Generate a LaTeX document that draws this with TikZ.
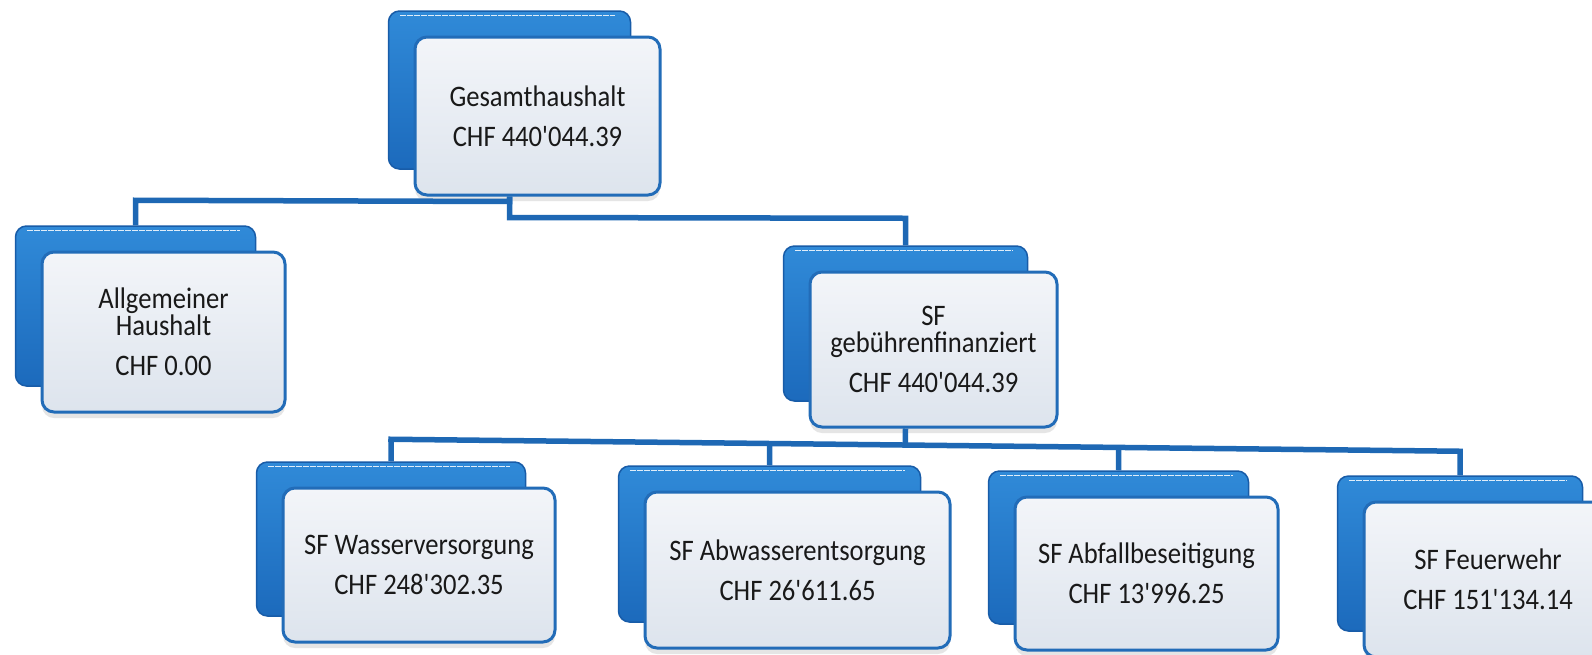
\documentclass[tikz,border=0pt]{standalone}
\usepackage{fontspec}
\setmainfont{Carlito}
\usetikzlibrary{calc,shadows}
\definecolor{bluetop}{RGB}{48,138,216}
\definecolor{bluebot}{RGB}{28,106,188}
\definecolor{bluedraw}{RGB}{24,92,168}
\definecolor{fronttop}{RGB}{243,245,249}
\definecolor{frontbot}{RGB}{221,228,237}
\definecolor{frontdraw}{RGB}{34,108,184}
\definecolor{conncol}{RGB}{30,104,180}
\definecolor{txtcol}{RGB}{25,25,25}
\newcommand{\apos}{\textquotesingle}
\tikzset{
  backbox/.style={rectangle, rounded corners=11pt, draw=bluedraw, line width=1.5pt,
    top color=bluetop, bottom color=bluebot, inner sep=0pt},
  frontbox/.style={rectangle, rounded corners=12pt, draw=frontdraw, line width=3pt,
    top color=fronttop, bottom color=frontbot, inner sep=0pt,
    drop shadow={shadow xshift=0pt, shadow yshift=-6pt, opacity=0.22, fill=black!45}},
  hilite/.style={draw=white, line width=1.3pt, opacity=0.85, dash pattern=on 6pt off 1pt},
  cardtext/.style={font=\fontsize{26.6}{24}\selectfont, align=center, text=txtcol,
    inner sep=0pt, yscale=1.12, transform shape},
  conn/.style={draw=conncol, line width=5.5pt, line join=miter}
}
\newcommand{\card}[7]{%
  \node[backbox, minimum width=#4pt-3pt, minimum height=#5pt] (#1B) at ($(#2,#3)+(-28,-26)$) {};
  \draw[hilite] ($(#1B.north west)+(12,5)$) -- ($(#1B.north east)+(-16,5)$);
  \node[frontbox, minimum width=#4pt, minimum height=#5pt] (#1) at (#2,#3) {};
  \node[cardtext] (#1T) at (#1.center) {#6\\[12pt]#7};
}
\begin{document}
\begin{tikzpicture}[x=1pt, y=-1pt]
  \fill[white] (0,0) rectangle (1592,654);
  \useasboundingbox (0,0) rectangle (1592,654);

  \card{g}{537.5}{116}{245}{158}{Gesamthaushalt}{CHF 440\apos044.39}
  \card{a}{163.5}{332}{243}{160}{Allgemeiner\\Haushalt}{CHF 0.00}
  \card{s}{933.5}{349.5}{247}{155}{SF\\gebührenfinanziert}{CHF 440\apos044.39}
  \card{w}{419}{565}{272}{154}{SF Wasserversorgung}{CHF 248\apos302.35}
  \card{v}{797.5}{570}{305}{156}{SF Abwasserentsorgung}{CHF 26\apos611.65}
  \card{b}{1146.5}{573.5}{263}{153}{SF Abfallbeseitigung}{CHF 13\apos996.25}
  \card{f}{1488}{579.5}{248}{155}{SF Feuerwehr}{CHF 151\apos134.14}

  % level 1 connectors
  \draw[conn] (gB.south |- g.south) -- ++(0,5) -- ($(aB.north)+(0,-25)$) -- (aB.north);
  \draw[conn] (gB.south |- g.south) -- ++(0,21) -- ($(sB.north)+(0,-27)$) -- (sB.north);

  % level 2 bus
  \coordinate (busL) at ($(wB.north)+(0,-22)$);
  \coordinate (busR) at ($(fB.north)+(0,-24)$);
  \draw[conn, line cap=rect] (busL) -- (busR);
  \draw[conn] (sB.south |- s.south) -- ($(busL)!(sB.south |- s.south)!(busR)$);
  \draw[conn] ($(busL)!(wB.north)!(busR)$) -- (wB.north);
  \draw[conn] ($(busL)!(vB.north)!(busR)$) -- (vB.north);
  \draw[conn] ($(busL)!(bB.north)!(busR)$) -- (bB.north);
  \draw[conn] ($(busL)!(fB.north)!(busR)$) -- (fB.north);
\end{tikzpicture}
\end{document}
